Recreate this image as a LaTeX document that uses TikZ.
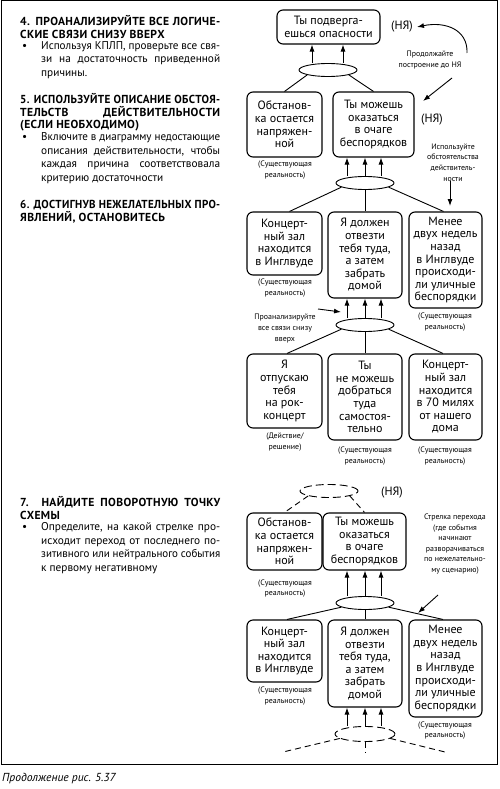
\documentclass[tikz,border=0pt]{standalone}
\usepackage{fontspec}
\setmainfont{PT Sans}
\usepackage{graphicx}
\usepackage{tikz}
\usetikzlibrary{shapes.geometric,arrows.meta}

\newcommand{\boxfont}{\fontsize{12}{12.6}\selectfont}
\newcommand{\lblfont}{\fontsize{7.9}{10.6}\selectfont}
\newcommand{\hdfont}{\fontsize{11.6}{12.6}\selectfont\bfseries\addfontfeatures{LetterSpace=3}}
\newcommand{\txfont}{\fontsize{11.3}{13.5}\selectfont}
\newsavebox{\fitbox}
\newcommand{\fitline}[2]{\sbox{\fitbox}{#2}%
  \ifdim\wd\fitbox>#1\relax\resizebox{#1}{\height}{\usebox{\fitbox}}\else\makebox[#1][s]{#2}\fi}
\newcommand{\hd}[1]{\fitline{200pt}{#1}}%見出しの両端揃え
\newcommand{\bl}[1]{\fitline{179pt}{#1}}%本文の両端揃え

\tikzset{
  box/.style={draw, line width=1.1pt, rounded corners=6pt, align=center, inner sep=1pt, font=\boxfont},
  sz/.style 2 args={minimum width=#1pt, minimum height=#2pt},
  ell/.style={draw, ellipse, line width=0.9pt, minimum width=58pt, minimum height=13pt, inner sep=0pt},
  lnk/.style={line width=0.9pt},
  arr/.style={line width=0.9pt, -{Latex[length=7pt,width=5pt]}},
  lbl/.style={font=\lblfont, align=center, inner sep=0pt},
  ny/.style={font=\boxfont, inner sep=0pt},
  txt/.style={inner sep=0pt, anchor=base west},
}

\begin{document}
\begin{tikzpicture}[x=1pt, y=-1pt]
\useasboundingbox (0,0) rectangle (500,789);
\draw [line width=1pt] (1,1) rectangle (497,764);%外枠

%%左の説明文
\node [txt] (h4) at (20,25.5) {\parbox[t]{200pt}{\hdfont\hd{4. ПРОАНАЛИЗИРУЙТЕ ВСЕ ЛОГИЧЕ-}\\СКИЕ СВЯЗИ СНИЗУ ВВЕРХ}};
\node [txt, font=\txfont] (d4) at (22,49.5) {•};
\node [txt] (t4) at (41,49.5) {\parbox[t]{179pt}{\txfont\bl{Используя КПЛП, проверьте все свя-}\\\bl{зи на достаточность приведенной}\\причины.}};
\node [txt] (h5) at (20,103.5) {\parbox[t]{200pt}{\hdfont\hd{5. ИСПОЛЬЗУЙТЕ ОПИСАНИЕ ОБСТОЯ-}\\\hd{ТЕЛЬСТВ ДЕЙСТВИТЕЛЬНОСТИ}\\(ЕСЛИ НЕОБХОДИМО)}};
\node [txt, font=\txfont] (d5) at (22,140.5) {•};
\node [txt] (t5) at (41,140.5) {\parbox[t]{179pt}{\txfont\bl{Включите в диаграмму недостающие}\\\bl{описания действительности, чтобы}\\\bl{каждая причина соответствовала}\\критерию достаточности}};
\node [txt] (h6) at (20,208.5) {\parbox[t]{200pt}{\hdfont\hd{6. ДОСТИГНУВ НЕЖЕЛАТЕЛЬНЫХ ПРО-}\\ЯВЛЕНИЙ, ОСТАНОВИТЕСЬ}};
\node [txt] (h7) at (20,506.5) {\parbox[t]{200pt}{\hdfont\hd{7. НАЙДИТЕ ПОВОРОТНУЮ ТОЧКУ}\\СХЕМЫ}};
\node [txt, font=\txfont] (d7) at (22,530.5) {•};
\node [txt] (t7) at (41,530.5) {\parbox[t]{179pt}{\txfont\bl{Определите, на какой стрелке про-}\\\bl{исходит переход от последнего по-}\\\bl{зитивного или нейтрального события}\\к первому негативному}};
\node [txt, font=\fontsize{11.6}{13}\selectfont\itshape] (cap) at (2,781) {Продолжение рис. 5.37};

%%上の図
\node [box, sz={103}{34}] (opas) at (328.5,27) {Ты подверга-\\ешься опасности};
\node [ny] (ny1) at (402,27) {(НЯ)};
\node [ell] (e1) at (328,70) {};
\node [box, sz={75}{65}] (obst) at (284.5,124.5) {Обстанов-\\ка остается\\напряжен-\\ной};
\node [box, sz={81}{65}] (ochag) at (373.5,124.5) {Ты можешь\\оказаться\\в очаге\\беспорядков};
\node [ny] (ny2) at (432,120) {(НЯ)};
\node [lbl] (r1) at (285,170) {(Существующая\\реальность)};
\node [lbl] (n1) at (430,60) {Продолжайте\\построение до НЯ};
\node [ell] (e2) at (365,183) {};
\node [lbl] (n2) at (453,162.5) {Используйте\\обстоятельства\\действитель-\\ности};
\node [box, sz={75}{63}] (zal) at (284.5,243.5) {Концерт-\\ный зал\\находится\\в Инглвуде};
\node [box, sz={74}{86}] (otv) at (365,255) {Я должен\\отвезти\\тебя туда,\\а затем\\забрать\\домой};
\node [box, sz={73}{96}] (bunt) at (445.5,260) {Менее\\двух недель\\назад\\в Инглвуде\\происходи-\\ли уличные\\беспорядки};
\node [lbl] (r2) at (285,288) {(Существующая\\реальность)};
\node [lbl] (r3) at (445,322) {(Существующая\\реальность)};
\node [ell] (e3) at (365,325) {};
\node [lbl] (n3) at (285,328.5) {Проанализируйте\\все связи снизу\\вверх};
\node [box, sz={75}{74}] (rok) at (284.5,391) {Я\\отпускаю\\тебя\\на рок-\\концерт};
\node [box, sz={74}{86}] (sam) at (365,397) {Ты\\не можешь\\добраться\\туда\\самостоя-\\тельно};
\node [box, sz={73}{86}] (mil) at (445.5,397) {Концерт-\\ный зал\\находится\\в 70 милях\\от нашего\\дома};
\node [lbl] (r4) at (285,442) {(Действие/\\решение)};
\node [lbl] (r5) at (365,456) {(Существующая\\реальность)};
\node [lbl] (r6) at (445,456) {(Существующая\\реальность)};

\coordinate (c1) at (467,53);
\coordinate (c2a) at (452,78);
\coordinate (c2b) at (423,101);
\coordinate (c3) at (450,206);
\coordinate (c4a) at (318,309);
\coordinate (c4b) at (341,312);

\foreach \dx in {-16,15}
  \draw [arr] ([xshift=\dx pt]e1.north) coordinate (p) -- (p |- opas.south);
\draw [lnk] (e1.south west) -- (obst.north);
\draw [lnk] (e1.south east) -- (ochag.north);
\draw [arr] (c1) .. controls (468,30) and (446,21) .. ([xshift=4pt]ny1.east);
\draw [arr] (c2a) -- (c2b);
\foreach \dx in {-18,0,16}
  \draw [arr] ([xshift=\dx pt]e2.north) coordinate (p) -- (p |- ochag.south);
\draw [arr] (n2.south -| c3) -- (c3);
\draw [lnk] (e2.190) -- ([xshift=5pt]zal.north);
\draw [lnk] (e2.south) -- (otv.north);
\draw [lnk] (e2.-10) -- ([xshift=-2pt]bunt.north);
\foreach \dx in {-18,0,16}
  \draw [arr] ([xshift=\dx pt]e3.north) coordinate (p) -- (p |- otv.south);
\draw [arr] (c4a) -- (c4b);
\draw [lnk] (e3.190) -- ([xshift=2.5pt]rok.north);
\draw [lnk] (e3.south) -- (sam.north);
\draw [lnk] (e3.-10) -- ([xshift=-2.5pt]mil.north);

%%下の図
\node [ell, dashed, dash pattern=on 8pt off 4pt] (e4) at (329,491) {};
\node [ny] (ny3) at (392,493) {(НЯ)};
\node [box, sz={75}{57}] (obst2) at (284.5,541.5) {Обстанов-\\ка остается\\напряжен-\\ной};
\node [box, sz={83}{57}] (ochag2) at (364.5,541.5) {Ты можешь\\оказаться\\в очаге\\беспорядков};
\node [lbl] (r7) at (285,588.5) {(Существующая\\реальность)};
\node [lbl] (n4) at (455,544) {Стрелка перехода\\(где события\\начинают\\разворачиваться\\по нежелательно-\\му сценарию)};
\node [ell] (e5) at (365,603) {};
\node [box, sz={75}{62}] (zal2) at (284.5,651) {Концерт-\\ный зал\\находится\\в Инглвуде};
\node [box, sz={74}{87}] (otv2) at (365,663.5) {Я должен\\отвезти\\тебя туда,\\а затем\\забрать\\домой};
\node [box, sz={73}{97}] (bunt2) at (445.5,668.5) {Менее\\двух недель\\назад\\в Инглвуде\\происходи-\\ли уличные\\беспорядки};
\node [lbl] (r8) at (285,696) {(Существующая\\реальность)};
\node [lbl] (r9) at (445,730.5) {(Существующая\\реальность)};
\node [ell, dashed, dash pattern=on 8pt off 4pt, minimum width=60pt, minimum height=15pt] (e6) at (365,734) {};

\coordinate (c5a) at (438,595);
\coordinate (c5b) at (418,613);
\coordinate (f1) at (283,752);
\coordinate (f2) at (365,752);
\coordinate (f3) at (445,752);

\draw [lnk, dashed, dash pattern=on 6pt off 4pt] (e4.south west) -- (obst2.north);
\draw [lnk, dashed, dash pattern=on 6pt off 4pt] (e4.south east) -- (ochag2.north);
\foreach \dx in {-18,0,16}
  \draw [arr] ([xshift=\dx pt]e5.north) coordinate (p) -- (p |- ochag2.south);
\draw [arr] (c5a) -- (c5b);
\draw [lnk] (e5.190) -- ([xshift=2.5pt]zal2.north);
\draw [lnk] (e5.south) -- (otv2.north);
\draw [lnk] (e5.-10) -- ([xshift=-2.5pt]bunt2.north);
\foreach \dx in {-18,0,16}
  \draw [arr] ([xshift=\dx pt]e6.north) coordinate (p) -- (p |- otv2.south);
\draw [lnk, dashed, dash pattern=on 6pt off 4pt] (e6.190) -- (f1);
\draw [lnk, dashed, dash pattern=on 6pt off 4pt] (e6.south) -- (f2);
\draw [lnk, dashed, dash pattern=on 6pt off 4pt] (e6.-10) -- (f3);
\end{tikzpicture}
\end{document}
